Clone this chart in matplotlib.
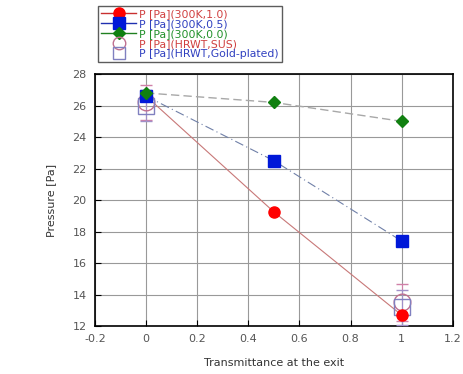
import matplotlib
matplotlib.use('Agg')
import matplotlib.pyplot as plt
from matplotlib.lines import Line2D

# dados
x = [0, 0.5, 1]
p_10 = [26.6, 19.25, 12.7]   # 300K, 1.0
p_05 = [26.6, 22.5, 17.4]    # 300K, 0.5
p_00 = [26.8, 26.2, 25.0]    # 300K, 0.0

x_hrwt = [0, 1]
p_sus = [26.2, 13.5]
p_gold = [26.0, 13.2]
err_sus = [1.1, 1.2]
err_gold = [1.0, 1.1]

rotulos = ['P [Pa](300K,1.0)', 'P [Pa](300K,0.5)', 'P [Pa](300K,0.0)',
           'P [Pa](HRWT,SUS)', 'P [Pa](HRWT,Gold-plated)']
cores_txt = ['#d04040', '#3040c0', '#20902a', '#d04040', '#3040c0']

fig = plt.figure(figsize=(4.63, 3.74), dpi=100)
ax = fig.add_axes([0.205, 0.128, 0.773, 0.674])

# linhas que ligam os pontos
ax.plot(x, p_10, color='#c87878', lw=0.8, zorder=2)
ax.plot(x, p_05, color='#7080a8', lw=0.8, ls=(0, (8, 3, 1, 3)), zorder=2)
ax.plot(x, p_00, color='#a8a8a8', lw=1.0, ls=(0, (6, 3)), zorder=2)

ax.plot(x, p_10, 'o', color='red', ms=8, zorder=4)
ax.plot(x, p_05, 's', color='#0018d8', ms=8, zorder=4)
ax.plot(x, p_00, 'D', color='#108010', ms=6, zorder=5)

ax.errorbar(x_hrwt, p_sus, yerr=err_sus, fmt='o', mfc='none', mec='#c07090',
            ecolor='#d080a8', ms=12, capsize=4, lw=0.8, zorder=3)
ax.errorbar(x_hrwt, p_gold, yerr=err_gold, fmt='s', mfc='none', mec='#8080c0',
            ecolor='#a090c8', ms=11, capsize=4, lw=0.8, zorder=3)

ax.set_xlim(-0.2, 1.2)
ax.set_ylim(12, 28)
ax.set_xticks([-0.2, 0, 0.2, 0.4, 0.6, 0.8, 1, 1.2])
ax.set_xticklabels(['-0.2', '0', '0.2', '0.4', '0.6', '0.8', '1', '1.2'])
ax.set_yticks(range(12, 29, 2))
ax.tick_params(direction='in', labelsize=8, labelcolor='#555555', length=4, pad=6)
ax.grid(True, color='#999999', lw=0.8)
for s in ax.spines.values():
    s.set_linewidth(1.2)

ax.set_xlabel('Transmittance at the exit', fontsize=8, color='#333333', labelpad=10)
ax.set_ylabel('Pressure [Pa]', fontsize=8, color='#333333', labelpad=12)

# legenda acima do grafico, com linha atras dos marcadores
alcas = [
    Line2D([], [], color='#c83030', lw=1, marker='o', ms=8, mfc='red', mec='red'),
    Line2D([], [], color='#2030b0', lw=1, marker='s', ms=8, mfc='#0018d8', mec='#0018d8'),
    Line2D([], [], color='#208020', lw=1, marker='D', ms=6, mfc='#108010', mec='#108010'),
    Line2D([], [], ls='none', marker='o', ms=9, mfc='none', mec='#c07090'),
    Line2D([], [], ls='none', marker='s', ms=8, mfc='none', mec='#8080c0'),
]
leg = fig.legend(alcas, rotulos, loc='upper left',
                 bbox_to_anchor=(0.207, 0.99), fontsize=7.8, frameon=True,
                 fancybox=False, edgecolor='#333333', handlelength=3.2,
                 labelspacing=0.0, borderpad=0.3, handletextpad=0.3,
                 borderaxespad=0.2)
leg.get_frame().set_linewidth(1.0)
for t, c in zip(leg.get_texts(), cores_txt):
    t.set_color(c)

fig.savefig('out.png', dpi=100)
